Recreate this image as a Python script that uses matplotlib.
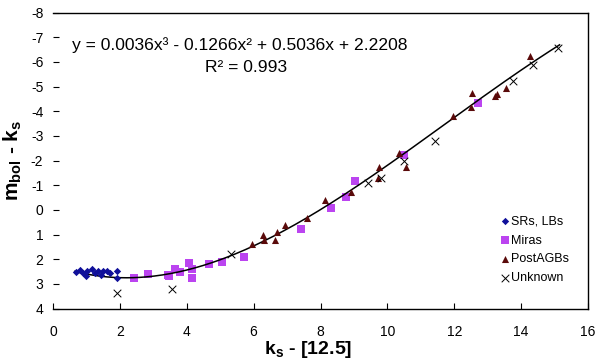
import matplotlib
matplotlib.use("Agg")
import matplotlib.pyplot as plt
import numpy as np

plt.rcParams['font.family'] = ['Liberation Sans', 'DejaVu Sans']
plt.rcParams['axes.unicode_minus'] = False
plt.rcParams['mathtext.fontset'] = 'custom'
plt.rcParams['mathtext.rm'] = 'Liberation Sans'
plt.rcParams['mathtext.bf'] = 'Liberation Sans:bold'
plt.rcParams['mathtext.it'] = 'Liberation Sans:italic'

# Data
sr_x = [0.70, 0.80, 0.90, 0.98, 1.03, 1.16, 1.27, 1.36, 1.43, 1.50, 1.61, 1.70, 1.90, 1.91]
sr_y = [2.52, 2.42, 2.56, 2.69, 2.46, 2.41, 2.56, 2.49, 2.65, 2.49, 2.46, 2.56, 2.46, 2.78]

mira_x = [2.43, 2.83, 3.45, 3.48, 3.66, 3.80, 4.06, 4.15, 4.15, 4.68, 5.06, 5.72,
          7.42, 8.30, 8.77, 9.04, 10.51, 12.70]
mira_y = [2.76, 2.60, 2.63, 2.69, 2.38, 2.53, 2.15, 2.41, 2.76, 2.20, 2.10, 1.92,
          0.76, -0.09, -0.54, -1.18, -2.24, -4.34]

pagb_x = [5.96, 6.29, 6.31, 6.64, 6.70, 6.94, 7.60, 8.12, 8.92, 9.72, 9.74, 10.36,
          10.57, 11.97, 12.50, 12.54, 13.22, 13.28, 13.54, 14.27]
pagb_y = [1.40, 1.01, 1.24, 1.24, 0.88, 0.61, 0.34, -0.38, -0.74, -1.28, -1.72, -2.32,
          -1.75, -3.80, -4.15, -4.74, -4.62, -4.70, -4.92, -6.22]

unk_x = [1.91, 3.56, 5.31, 9.41, 9.81, 10.51, 11.41, 13.76, 14.36, 15.11]
unk_y = [3.37, 3.20, 1.78, -1.08, -1.28, -2.00, -2.80, -5.22, -5.86, -6.57]

# Polynomial trendline coefficients (shown on chart)
coef = [0.0036, -0.1266, 0.5036, 2.2208]
fit_xmin, fit_xmax = 0.65, 15.15

W, H = 600, 359
fig = plt.figure(figsize=(W/100, H/100), dpi=100)
ax = fig.add_axes([53/W, 1-308.5/H, (588-53)/W, (308.5-12.5)/H])

xf = np.linspace(fit_xmin, fit_xmax, 300)
ax.plot(xf, np.polyval(coef, xf), color='black', lw=1.1, zorder=3)

ax.scatter(sr_x, sr_y, marker='D', s=14, color='#10109a', label='SRs, LBs', zorder=4, linewidths=0)
ax.scatter(mira_x, mira_y, marker='s', s=28, color='#bb44f0', label='Miras', zorder=2, linewidths=0)
ax.scatter(pagb_x, pagb_y, marker='^', s=26, color='#5a0a0a', label='PostAGBs', zorder=4, linewidths=0)
ax.scatter(unk_x, unk_y, marker='x', s=30, color='black', label='Unknown', zorder=4, linewidths=0.7)

ax.set_xlim(0, 16)
ax.set_ylim(4, -8)
ax.set_xticks(np.arange(0, 17, 2))
ax.set_yticks(np.arange(-8, 5, 1))

ax.spines['left'].set_visible(False)
for s in ['top', 'right', 'bottom']:
    ax.spines[s].set_linewidth(1.0)
ax.tick_params(axis='x', direction='in', length=4, width=0.8, pad=12, labelsize=10)
ax.tick_params(axis='y', direction='in', length=4, width=0.8, pad=7, labelsize=10)

fig.text(308/W, 1-349/H, r'$\mathbf{k_s}$ - [12.5]', fontsize=14, fontweight='bold',
         ha='center', va='center')
fig.text(13/W, 1-160/H, r'$\mathbf{m_{bol}}$ - $\mathbf{k_s}$', fontsize=15, fontweight='bold',
         ha='center', va='center', rotation=90)

fig.text(240/W, 1-45/H, 'y = 0.0036x³ - 0.1266x² + 0.5036x + 2.2208',
         ha='center', va='center', fontsize=12.6)
fig.text(246/W, 1-68/H, 'R² = 0.993', ha='center', va='center', fontsize=12.6)

leg = ax.legend(loc='center left', bbox_to_anchor=((500-53)/535, (308.5-250)/296),
                frameon=False, fontsize=9, handletextpad=0.1, handlelength=0.8,
                labelspacing=0.55, borderaxespad=0, borderpad=0, scatterpoints=1)

fig.savefig('out.png', dpi=100)
